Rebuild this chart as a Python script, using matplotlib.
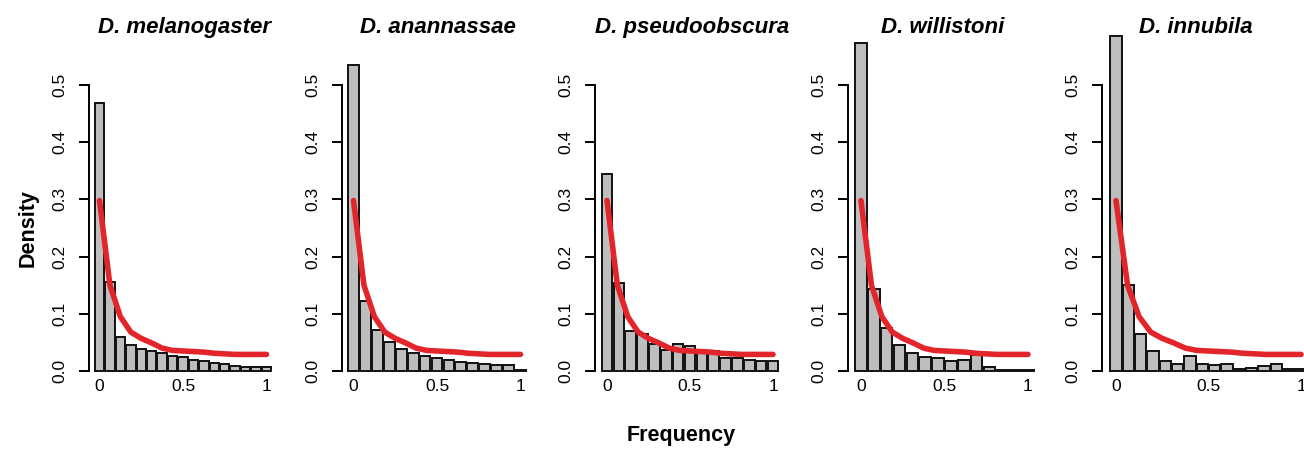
import matplotlib
matplotlib.use("Agg")
import matplotlib.pyplot as plt
import numpy as np

plt.rcParams['font.family'] = ['Liberation Sans', 'DejaVu Sans']

# ---------------- data ----------------
species = ["D. melanogaster", "D. anannassae", "D. pseudoobscura",
           "D. willistoni", "D. innubila"]

# number of frequency classes (bars sit at i / n_classes, i = 0..n_classes)
n_classes = [16, 14, 14, 13, 15]

dens_melanogaster = [0.468, 0.155, 0.0595, 0.0455, 0.038, 0.0356, 0.0315, 0.0257,
                     0.025, 0.0187, 0.0175, 0.0146, 0.0117, 0.008, 0.0076, 0.0064, 0.0076]
dens_anannassae = [0.535, 0.122, 0.072, 0.051, 0.039, 0.031, 0.026, 0.022,
                   0.019, 0.016, 0.014, 0.012, 0.011, 0.011, 0.001]
dens_pseudoobscura = [0.345, 0.153, 0.070, 0.065, 0.047, 0.036, 0.048, 0.043,
                      0.034, 0.035, 0.023, 0.023, 0.019, 0.017, 0.0175]
dens_willistoni = [0.573, 0.143, 0.075, 0.0455, 0.0315, 0.024, 0.022, 0.017,
                   0.019, 0.028, 0.0076, 0.001, 0.001, 0.001]
dens_innubila = [0.586, 0.151, 0.064, 0.035, 0.018, 0.012, 0.027, 0.012,
                 0.0105, 0.012, 0.004, 0.0047, 0.008, 0.0117, 0.0035, 0.0035]
densities = [dens_melanogaster, dens_anannassae, dens_pseudoobscura,
             dens_willistoni, dens_innubila]

# expected (red) curve
curve_x = [0, 0.0625, 0.125, 0.1875, 0.25, 0.3125, 0.375, 0.4375, 0.5,
           0.5625, 0.625, 0.6875, 0.75, 0.8125, 0.875, 0.9375, 1.0]
curve_y = [0.298, 0.150, 0.095, 0.068, 0.057, 0.049, 0.040, 0.036, 0.035,
           0.034, 0.033, 0.031, 0.030, 0.029, 0.029, 0.029, 0.029]

y_ticks = [0.0, 0.1, 0.2, 0.3, 0.4, 0.5]
y_ticklabels = ["0.0", "0.1", "0.2", "0.3", "0.4", "0.5"]
x_ticks = [0, 0.5, 1]
x_ticklabels = ["0", "0.5", "1"]

# ---------------- layout (pixels) ----------------
W, H = 1304, 449
DPI = 100
fig = plt.figure(figsize=(W / DPI, H / DPI), dpi=DPI)

# (axis-left px, axes-right px, px of x=0, px of x=1)
panels = [(89, 280, 99.5, 266.5),
          (342, 533, 353.5, 520.5),
          (595, 789, 607, 773),
          (848, 1038, 861, 1028),
          (1102, 1304, 1116, 1301)]
title_centers = [184, 438, 692, 943, 1196]

y0_px, ppu_y = 371, 572.0
ymax = 0.6
top_px = y0_px - ymax * ppu_y

bar_color = "#BEBEBE"
red = "#E2252B"

for k, (L, R, p0, p1) in enumerate(panels):
    ax = fig.add_axes([L / W, 1 - y0_px / H, (R - L) / W, (y0_px - top_px) / H])
    s = p1 - p0
    ax.set_xlim((L - p0) / s, (R - p0) / s)
    ax.set_ylim(0, ymax)
    n = n_classes[k]
    d = densities[k]
    xs = np.arange(len(d)) / n
    ax.bar(xs, d, width=0.9 / n, color=bar_color, edgecolor="#111111",
           linewidth=1.4, align="center", clip_on=False, zorder=2)
    ax.plot(curve_x, curve_y, color=red, lw=4.0, solid_capstyle="round",
            solid_joinstyle="round", zorder=3, clip_on=False)

    for side in ("top", "right", "bottom"):
        ax.spines[side].set_visible(False)
    ax.spines["left"].set_bounds(0, 0.5)
    ax.spines["left"].set_linewidth(1.4)
    ax.set_yticks(y_ticks)
    ax.set_yticklabels(y_ticklabels, rotation=90, va="center", fontsize=12.5)
    ax.tick_params(axis="y", direction="out", length=7.5, width=1.4, pad=8)
    ax.set_xticks(x_ticks)
    ax.set_xticklabels(x_ticklabels, fontsize=12.5)
    ax.tick_params(axis="x", length=0, pad=6)
    ax.patch.set_visible(False)

    fig.text(title_centers[k] / W, 1 - 33 / H, species[k], ha="center",
             va="baseline", fontsize=16, fontweight="bold", fontstyle="italic")

fig.text(28 / W, 1 - 228 / H, "Density", rotation=90, ha="center", va="center",
         fontsize=15.5, fontweight="bold")
fig.text(681 / W, 1 - 436 / H, "Frequency", ha="center", va="center",
         fontsize=15.5, fontweight="bold")

fig.savefig("out.png", dpi=DPI)
